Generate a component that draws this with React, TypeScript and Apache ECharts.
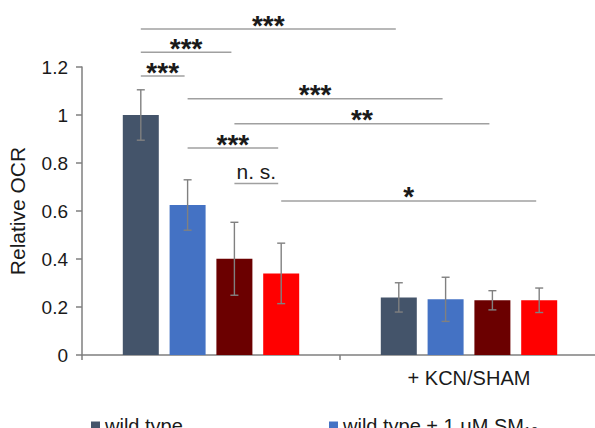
import React, { useEffect, useRef } from 'react';
import * as echarts from 'echarts';

// ---- data ----
const categories = ['', '+ KCN/SHAM'];
const seriesNames = ['wild type', 'wild type + 1 μM SM₁₉', 'series 3', 'series 4'];
const seriesColors = ['#44546A', '#4472C4', '#6B0000', '#FF0000'];

const wildType = [1.0, 0.24];
const wildTypeSM = [0.625, 0.232];
const series3 = [0.401, 0.228];
const series4 = [0.34, 0.228];

const wildTypeErr = [0.105, 0.061];
const wildTypeSMErr = [0.105, 0.092];
const series3Err = [0.152, 0.04];
const series4Err = [0.126, 0.051];

const means = [wildType, wildTypeSM, series3, series4];
const errs = [wildTypeErr, wildTypeSMErr, series3Err, series4Err];

// significance brackets: [fromCat, fromSeries, toCat, toSeries, level]
const brackets = [
  [0, 0, 1, 0, 1.358],
  [0, 0, 0, 2, 1.261],
  [0, 0, 0, 1, 1.1625],
  [0, 1, 1, 1, 1.068],
  [0, 2, 1, 2, 0.964],
  [0, 1, 0, 3, 0.8625],
  [0, 2, 0, 3, 0.715],
  [0, 3, 1, 3, 0.642],
];
const bracketLabels = ['***', '***', '***', '***', '**', '***', 'n. s.', '*'];

const yTicksMax = 1.2;
const yTicksStep = 0.2;

// ---- layout constants ----
const BAR_W = 36;
const BAR_GAP = 0.3;
const N = 4;
const offsetFor = (s: number) => {
  const step = BAR_W * (1 + BAR_GAP);
  const total = N * BAR_W + (N - 1) * BAR_W * BAR_GAP;
  return -total / 2 + BAR_W / 2 + s * step;
};

const FONT = '"Liberation Sans", Arial, sans-serif';

export default function App() {
  const ref = useRef<HTMLDivElement>(null);
  useEffect(() => {
    if (!ref.current) return;
    const chart = echarts.init(ref.current, undefined, { renderer: 'svg' });

    const errData: number[][] = [];
    means.forEach((m, s) => {
      m.forEach((v, c) => {
        errData.push([c, s, v - errs[s][c], v + errs[s][c]]);
      });
    });

    const barSeries = seriesNames.map((name, s) => ({
      name,
      type: 'bar',
      data: means[s],
      barWidth: BAR_W,
      barGap: BAR_GAP * 100 + '%',
      itemStyle: { color: seriesColors[s] },
      z: 2,
    }));

    const option: any = {
      animation: false,
      textStyle: { fontFamily: FONT },
      grid: {
        left: 82,
        right: -3,
        top: 67,
        bottom: 73,
        containLabel: false,
        outerBoundsMode: 'none',
      },
      legend: [
        {
          data: [seriesNames[0]],
          left: 86,
          top: 411,
          icon: 'rect',
          itemWidth: 9,
          itemHeight: 9,
          textStyle: { fontSize: 20, color: '#1a1a1a', fontFamily: FONT },
        },
        {
          data: [seriesNames[1]],
          left: 324,
          top: 411,
          icon: 'rect',
          itemWidth: 9,
          itemHeight: 9,
          textStyle: { fontSize: 20, color: '#1a1a1a', fontFamily: FONT },
        },
      ],
      xAxis: {
        type: 'category',
        data: categories,
        axisLine: { show: true, lineStyle: { color: '#7f7f7f', width: 1.5 } },
        axisTick: { show: true, length: 5, lineStyle: { color: '#7f7f7f', width: 1.5 } },
        axisLabel: { fontSize: 20, color: '#1a1a1a', margin: 13, fontFamily: FONT },
      },
      yAxis: {
        type: 'value',
        min: 0,
        max: yTicksMax,
        interval: yTicksStep,
        name: 'Relative OCR',
        nameLocation: 'middle',
        nameGap: 54,
        nameTextStyle: { fontSize: 21, color: '#1a1a1a', fontFamily: FONT },
        axisLine: { show: true, lineStyle: { color: '#7f7f7f', width: 1.5 } },
        axisTick: { show: true, length: 6, lineStyle: { color: '#7f7f7f', width: 1.5 } },
        axisLabel: { fontSize: 19, color: '#1a1a1a', margin: 14, fontFamily: FONT },
        splitLine: { show: false },
      },
      series: [
        ...barSeries,
        {
          type: 'custom',
          name: 'errors',
          data: errData,
          encode: { x: 0, y: [2, 3] },
          z: 5,
          clip: false,
          renderItem: (params: any, api: any) => {
            const c = api.value(0);
            const s = api.value(1);
            const lo = api.coord([c, api.value(2)]);
            const hi = api.coord([c, api.value(3)]);
            const x = lo[0] + offsetFor(s);
            const cap = 4;
            const style = { stroke: '#808080', lineWidth: 1.4 };
            return {
              type: 'group',
              children: [
                { type: 'line', shape: { x1: x, y1: lo[1], x2: x, y2: hi[1] }, style },
                { type: 'line', shape: { x1: x - cap, y1: hi[1], x2: x + cap, y2: hi[1] }, style },
                { type: 'line', shape: { x1: x - cap, y1: lo[1], x2: x + cap, y2: lo[1] }, style },
              ],
            };
          },
        },
        {
          type: 'custom',
          name: 'brackets',
          data: brackets,
          encode: { x: 0, y: 4 },
          z: 6,
          clip: false,
          renderItem: (params: any, api: any) => {
            const i = params.dataIndex;
            const p1 = api.coord([api.value(0), api.value(4)]);
            const p2 = api.coord([api.value(2), api.value(4)]);
            const x1 = p1[0] + offsetFor(api.value(1));
            const x2 = p2[0] + offsetFor(api.value(3)) - 3;
            const y = p1[1];
            const label = bracketLabels[i];
            const isStar = label.indexOf('*') >= 0;
            return {
              type: 'group',
              children: [
                {
                  type: 'line',
                  shape: { x1, y1: y, x2, y2: y },
                  style: { stroke: '#a0a0a0', lineWidth: 1.5 },
                },
                {
                  type: 'text',
                  x: (x1 + x2) / 2,
                  y: isStar ? y - 4 : y - 12,
                  style: {
                    text: label,
                    align: 'center',
                    verticalAlign: 'middle',
                    fontSize: isStar ? 28 : 21,
                    fontWeight: isStar ? 'bold' : 'normal',
                    fontFamily: FONT,
                    fill: '#1a1a1a',
                  },
                },
              ],
            };
          },
        },
      ],
    };
    chart.setOption(option);
    return () => chart.dispose();
  }, []);
  return (
    <div
      ref={ref}
      style={{ position: 'absolute', left: 0, top: 0, width: 595, height: 428, background: '#fff' }}
    />
  );
}
